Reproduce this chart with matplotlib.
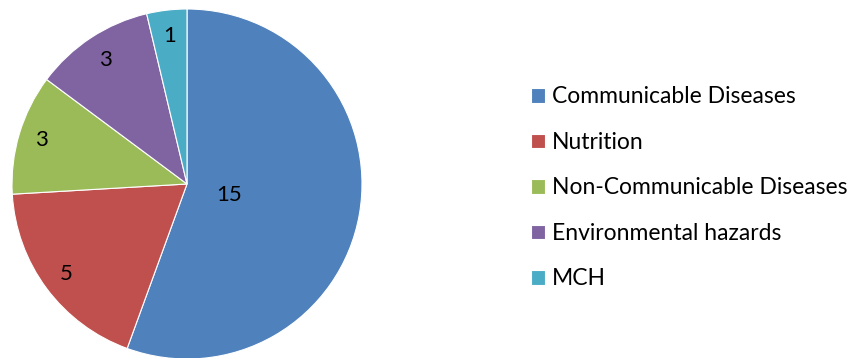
import numpy as np
import matplotlib.pyplot as plt

plt.rcParams['font.family'] = ['Lato', 'DejaVu Sans']

categories = ['Communicable Diseases', 'Nutrition', 'Non-Communicable Diseases',
              'Environmental hazards', 'MCH']
counts = [15, 5, 3, 3, 1]
colors = ['#4F81BD', '#C0504D', '#9BBB59', '#8064A2', '#4BACC6']
# radial position of each value label, as a fraction of the radius
label_r = [0.25, 0.86, 0.87, 0.85, 0.85]

fig = plt.figure(figsize=(8.5, 3.58), dpi=100)
ax = fig.add_axes([12 / 850, (358 - 184 - 175) / 358, 350 / 850, 350 / 358])

wedges, _ = ax.pie(counts, colors=colors, startangle=90, counterclock=False,
                   wedgeprops=dict(edgecolor='white', linewidth=0.8))
ax.set_xlim(-1, 1)
ax.set_ylim(-1, 1)
ax.set_aspect('equal')

for w, val, r in zip(wedges, counts, label_r):
    ang = np.deg2rad((w.theta1 + w.theta2) / 2)
    if val == 15:
        ang = np.deg2rad(-15)
    ax.text(r * np.cos(ang), r * np.sin(ang), str(val), ha='center', va='center',
            fontsize=16, color='black')

fig.legend(wedges, categories, loc='center left', bbox_to_anchor=(0.614, 0.475),
           frameon=False, fontsize=16.5, handlelength=0.61, handleheight=0.61,
           handletextpad=0.3, labelspacing=1.07, borderaxespad=0)

fig.savefig('out.png', dpi=100)
